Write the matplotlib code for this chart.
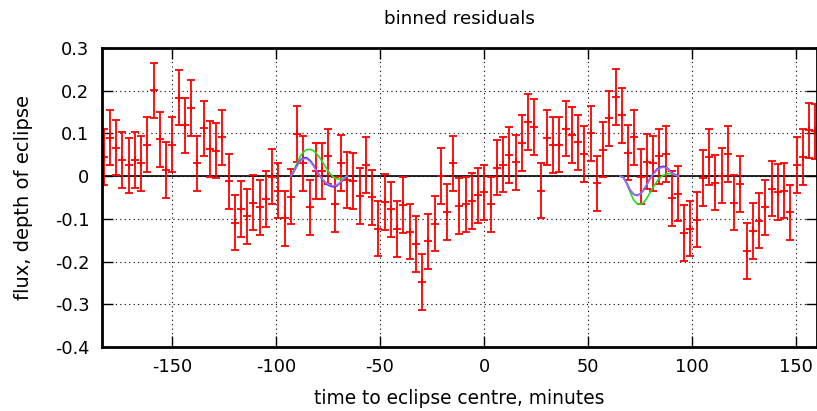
import matplotlib
matplotlib.use("Agg")
import matplotlib.pyplot as plt
from matplotlib.ticker import FuncFormatter

plt.rcParams['font.family'] = ['DejaVu Sans']

# bin centres (minutes) and binned residuals
time_min = [
    -182.8, -179.8, -176.8, -173.8, -170.8, -167.8, -164.8, -161.8, -158.8, -155.8,
    -152.8, -149.8, -146.8, -143.8, -140.8, -137.8, -134.8, -131.8, -128.8, -125.8,
    -122.8, -119.8, -116.8, -113.8, -110.8, -107.8, -104.8, -101.8, -98.8, -95.8,
    -92.8, -89.8, -86.8, -83.8, -80.8, -77.8, -74.8, -71.8, -68.8, -65.8,
    -62.8, -59.8, -56.8, -53.8, -50.8, -47.8, -44.8, -41.8, -38.8, -35.8,
    -32.8, -29.8, -26.8, -23.8, -20.8, -17.8, -14.8, -11.8, -8.8, -5.8,
    -2.8, 0.2, 3.2, 6.2, 9.2, 12.2, 15.2, 18.2, 21.2, 24.2,
    27.2, 30.2, 33.2, 36.2, 39.2, 42.2, 45.2, 48.2, 51.2, 54.2,
    57.2, 60.2, 63.2, 66.2, 69.2, 72.2, 75.2, 78.2, 81.2, 84.2,
    87.2, 90.2, 93.2, 96.2, 99.2, 102.2, 105.2, 108.2, 111.2, 114.2,
    117.2, 120.2, 123.2, 126.2, 129.2, 132.2, 135.2, 138.2, 141.2, 144.2,
    147.2, 150.2, 153.2, 156.2, 159.2,
]
flux = [
    0.045, 0.090, 0.067, 0.038, 0.025, 0.038, 0.030, 0.074, 0.201, 0.086,
    0.014, 0.074, 0.184, 0.119, 0.160, 0.030, 0.112, 0.064, 0.060, 0.091,
    -0.012, -0.109, -0.077, -0.094, -0.062, -0.073, -0.054, -0.001, -0.034, -0.099,
    -0.048, 0.099, 0.030, -0.073, 0.012, 0.012, 0.046, -0.066, 0.031, -0.009,
    -0.011, -0.046, 0.026, -0.050, -0.123, -0.061, -0.078, -0.124, -0.067, -0.130,
    -0.159, -0.248, -0.153, -0.111, 0.000, -0.084, 0.030, -0.070, -0.066, -0.058,
    -0.045, -0.038, -0.066, 0.020, 0.027, 0.050, 0.032, 0.077, 0.127, 0.115,
    -0.034, 0.090, 0.073, 0.074, 0.111, 0.096, 0.079, 0.052, 0.100, -0.017,
    0.062, 0.135, 0.185, 0.142, 0.055, 0.091, -0.001, 0.034, 0.030, 0.046,
    0.052, -0.052, -0.041, -0.133, -0.123, -0.102, -0.004, 0.045, -0.015, 0.001,
    0.052, -0.062, -0.019, -0.175, -0.128, -0.104, -0.073, -0.029, -0.037, -0.034,
    -0.085, 0.026, 0.045, 0.107, 0.105,
]
flux_err = 0.065

# model curves around the two features
model1_t = [-92.9, -91.7, -90.1, -88.5, -86.9, -85.3, -83.7, -82.1, -80.5,
            -78.8, -77.2, -75.6, -74.0, -72.4, -70.8, -69.2, -67.6, -65.7]
green1 = [0.0, 0.010, 0.028, 0.045, 0.056, 0.062, 0.0625, 0.060, 0.053,
          0.042, 0.030, 0.017, 0.006, -0.002, -0.006, -0.008, -0.005, 0.0]
blue1 = [0.0, 0.008, 0.023, 0.036, 0.043, 0.043, 0.037, 0.027, 0.013,
         0.0, -0.011, -0.019, -0.023, -0.025, -0.023, -0.016, -0.008, 0.0]
purple1 = [0.0, 0.008, 0.022, 0.034, 0.041, 0.041, 0.035, 0.025, 0.012,
           0.0, -0.010, -0.017, -0.021, -0.023, -0.021, -0.015, -0.007, 0.0]

model2_t = [65.4, 67.0, 68.6, 70.2, 71.8, 73.4, 75.0, 76.6, 78.2,
            79.8, 81.4, 83.0, 84.6, 86.2, 87.8, 89.4, 91.0, 93.4]
green2 = [0.0, -0.003, -0.017, -0.037, -0.055, -0.064, -0.066, -0.0625, -0.052,
          -0.038, -0.025, -0.013, -0.003, 0.002, 0.005, 0.006, 0.005, 0.0]
blue2 = [0.0, -0.003, -0.017, -0.033, -0.042, -0.045, -0.042, -0.033, -0.020,
         -0.005, 0.006, 0.016, 0.021, 0.023, 0.020, 0.0125, 0.005, 0.0]
purple2 = [0.0, -0.003, -0.017, -0.033, -0.042, -0.046, -0.042, -0.033, -0.020,
           -0.006, 0.005, 0.014, 0.019, 0.021, 0.019, 0.011, 0.004, 0.0]

fig = plt.figure(figsize=(8.17, 4.11), dpi=100)
ax = fig.add_axes([102 / 817, 64 / 411, 715 / 817, 299 / 411])

ax.grid(True, color='black', linestyle=(0, (1, 3)), linewidth=0.8)
ax.axhline(0, color='black', linewidth=1.2, zorder=1)

ax.errorbar(time_min, flux, yerr=flux_err, fmt='+', color='#ff0000',
            ecolor='#ff0000', elinewidth=1.3, capsize=2.6, capthick=1.3,
            markersize=5.5, markeredgewidth=1.3, zorder=2)

for t, g, b, p in [(model1_t, green1, blue1, purple1),
                   (model2_t, green2, blue2, purple2)]:
    ax.plot(t, g, color='#22dd22', linewidth=1.2, zorder=3)
    ax.plot(t, b, color='#2222ee', linewidth=1.2, zorder=3)
    ax.plot(t, p, color='#a070f0', linewidth=1.2, zorder=4)

ax.set_xlim(-183.6, 160)
ax.set_ylim(-0.4, 0.3)
ax.set_xticks([-150, -100, -50, 0, 50, 100, 150])
ax.set_yticks([-0.4, -0.3, -0.2, -0.1, 0, 0.1, 0.2, 0.3])
ax.yaxis.set_major_formatter(FuncFormatter(lambda v, p: ('%g' % round(v, 1))))
ax.xaxis.set_major_formatter(FuncFormatter(lambda v, p: '%g' % v))

ax.tick_params(direction='in', length=8, width=1, top=True, right=True,
               labelsize=12.8)
ax.tick_params(axis='y', pad=9)
ax.tick_params(axis='x', pad=8)
for s in ax.spines.values():
    s.set_linewidth(2)

ax.set_title("binned residuals", fontsize=13.2, pad=17)
ax.set_xlabel("time to eclipse centre, minutes", fontsize=13.4)
ax.set_ylabel("flux, depth of eclipse", fontsize=14)
ax.xaxis.set_label_coords(0.5, -0.14)
ax.yaxis.set_label_coords(-0.097, 0.5)

fig.savefig("out.png", dpi=100)
